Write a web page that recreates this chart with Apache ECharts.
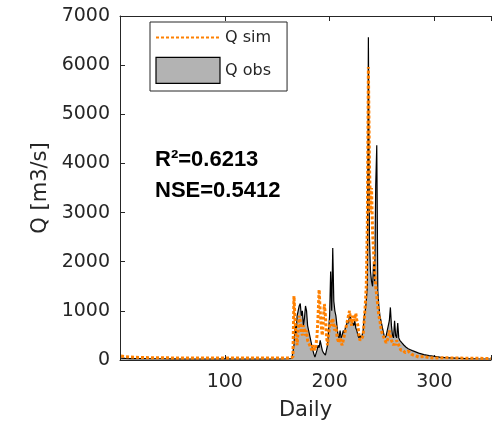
<!DOCTYPE html>
<html>
<head>
<meta charset="utf-8">
<script src="https://cdn.jsdelivr.net/npm/echarts@6/dist/echarts.min.js"></script>
<style>html,body{margin:0;padding:0;background:#fff;}#c{width:494px;height:427px;}</style>
</head>
<body>
<div id="c"></div>
<script>
// Observed discharge [day, m3/s]
const obsData = [
[1,40],[5,35],[10,30],[20,30],[30,25],[40,25],[50,22],[60,20],[70,20],[80,20],[90,20],[100,25],[110,20],[120,20],[130,20],[140,20],[150,20],[160,25],[164,30],
[165,60],[166,300],[167,700],[168,500],[169,900],[170,1000],[171,1100],[172,1150],[173,900],[174,1000],[175,700],[176,850],[177,1100],[178,1000],[179,700],
[180,600],[181,500],[182,400],[183,300],[184,200],[185,120],[186,60],[187,100],[188,200],[189,300],[190,250],[191,400],[192,300],[193,200],[194,150],[195,120],[196,100],[197,80],[198,300],[199,600],
[200,900],[201,1800],[202,1000],[203,2280],[204,1200],[205,1000],[206,900],[207,700],[208,500],[209,450],[210,600],[211,450],[212,500],[213,600],[214,550],[215,650],[216,700],[217,800],[218,750],[219,900],
[220,850],[221,800],[222,750],[223,700],[224,800],[225,650],[226,600],[227,500],[228,450],[229,500],[230,450],[231,500],[232,600],[233,900],[234,1000],[235,1200],[236,1500],[237,6570],[238,2500],[239,1800],
[240,1600],[241,1500],[242,2000],[243,1600],[244,3550],[245,4370],[246,1400],[247,1100],[248,900],[249,800],[250,700],[251,600],[252,500],[253,450],[254,500],[255,600],[256,700],[257,800],[258,1070],[259,700],
[260,500],[261,450],[262,800],[263,500],[264,450],[265,750],[266,450],[267,400],[268,380],[269,350],[270,320],[271,300],[272,280],[273,260],[274,240],[275,230],[276,220],[277,210],[278,200],[279,190],
[280,180],[285,140],[290,110],[295,90],[300,75],[305,60],[310,50],[320,40],[330,30],[340,25],[354,20]
];
// Simulated discharge [day, m3/s]
const simData = [
[1,80],[5,70],[10,60],[20,50],[40,45],[60,40],[80,40],[100,40],[120,40],[140,40],[160,40],[165,60],
[166,1300],[167,800],[168,500],[169,300],[170,600],[171,900],[172,800],[173,600],[174,500],[175,700],[176,650],[177,500],[178,600],[179,400],
[180,350],[181,300],[182,250],[183,200],[184,300],[185,250],[186,200],[187,300],[188,500],[189,900],[190,1430],[191,1000],[192,700],[193,500],[194,800],[195,1140],[196,900],[197,500],[198,300],[199,500],
[200,700],[201,800],[202,700],[203,850],[204,700],[205,600],[206,700],[207,500],[208,400],[209,350],[210,450],[211,350],[212,300],[213,400],[214,500],[215,600],[216,700],[217,800],[218,900],[219,1000],
[220,800],[221,700],[222,900],[223,800],[224,850],[225,950],[226,800],[227,700],[228,500],[229,400],[230,380],[231,450],[232,500],[233,800],[234,1100],[235,1500],[236,2800],[237,5960],[238,4000],[239,3000],
[240,3500],[241,2600],[242,2200],[243,1800],[244,1500],[245,1300],[246,1100],[247,900],[248,800],[249,650],[250,550],[251,500],[252,450],[253,400],[254,350],[255,380],[256,450],[257,600],[258,500],[259,400],
[260,350],[261,300],[262,350],[263,300],[264,400],[265,350],[266,300],[267,250],[268,200],[269,180],[270,200],[272,150],[275,180],[278,120],[280,100],[285,60],[290,70],[295,50],[300,40],[310,45],[320,40],[340,35],[354,30]
];
const yTicks = [0,1000,2000,3000,4000,5000,6000,7000];
const xTicks = [100,200,300];
const stats = ['R\u00B2=0.6213','NSE=0.5412'];

const axisColor = '#262626';
const font = '"DejaVu Sans", sans-serif';
const chart = echarts.init(document.getElementById('c'), null, {renderer:'canvas'});
chart.setOption({
  animation:false,
  grid:{left:120, right:0, top:16, bottom:67},
  legend:{
    orient:'vertical', left:150, top:22,
    backgroundColor:'#fff', borderColor:axisColor, borderWidth:1,
    padding:[5,16,7,5], itemWidth:64, itemHeight:26, itemGap:9, itemTextGap:4,
    textStyle:{fontFamily:font, fontSize:16, color:axisColor},
    data:[
      {name:'Q sim', itemStyle:{opacity:0}},
      {name:'Q obs', icon:'rect', itemStyle:{color:'#b3b3b3', borderColor:'#000', borderWidth:1.2}}
    ]
  },
  xAxis:[{
    type:'value', min:0, max:354, interval:100,
    name:'Daily', nameLocation:'middle', nameGap:40,
    nameTextStyle:{fontFamily:font, fontSize:21, color:axisColor},
    axisLine:{show:true, onZero:false, lineStyle:{color:axisColor, width:1}},
    axisTick:{show:true, inside:true, length:5, lineStyle:{color:axisColor}},
    axisLabel:{fontFamily:font, fontSize:19, color:axisColor, margin:13, showMinLabel:false,
      formatter:function(v){return xTicks.indexOf(v)>=0 ? String(v) : '';}},
    splitLine:{show:false}
  },{
    type:'value', position:'top', min:0, max:354, interval:100,
    axisLine:{show:true, onZero:false, lineStyle:{color:axisColor, width:1}},
    axisTick:{show:true, inside:true, length:5, lineStyle:{color:axisColor}},
    axisLabel:{show:false}, splitLine:{show:false}
  }],
  yAxis:{
    type:'value', min:0, max:7000, interval:1000,
    name:'Q [m3/s]', nameLocation:'middle', nameGap:63, nameRotate:90,
    nameTextStyle:{fontFamily:font, fontSize:21, color:axisColor},
    axisLine:{show:true, lineStyle:{color:axisColor, width:1}},
    axisTick:{show:true, inside:true, length:5, lineStyle:{color:axisColor}},
    axisLabel:{fontFamily:font, fontSize:19, color:axisColor, margin:10,
      formatter:function(v){return yTicks.indexOf(v)>=0 ? String(v) : '';}},
    splitLine:{show:false}
  },
  series:[
    {name:'Q obs', type:'line', data:obsData, symbol:'none', z:2,
      itemStyle:{color:'#b3b3b3'},
      lineStyle:{color:'#000', width:1.2},
      areaStyle:{color:'#b3b3b3', opacity:1}},
    {name:'Q sim', type:'line', data:simData, symbol:'none', z:3,
      itemStyle:{color:'#ff8000'},
      lineStyle:{color:'#ff8000', width:3, type:[3,2]}}
  ],
  graphic:[
    {type:'text', left:155, top:149, z:10, style:{text:stats[0], font:'bold 22px "Liberation Sans", Arial, sans-serif', fill:'#000'}},
    {type:'text', left:155, top:180, z:10, style:{text:stats[1], font:'bold 22px "Liberation Sans", Arial, sans-serif', fill:'#000'}}
  ]
});
</script>
</body>
</html>
